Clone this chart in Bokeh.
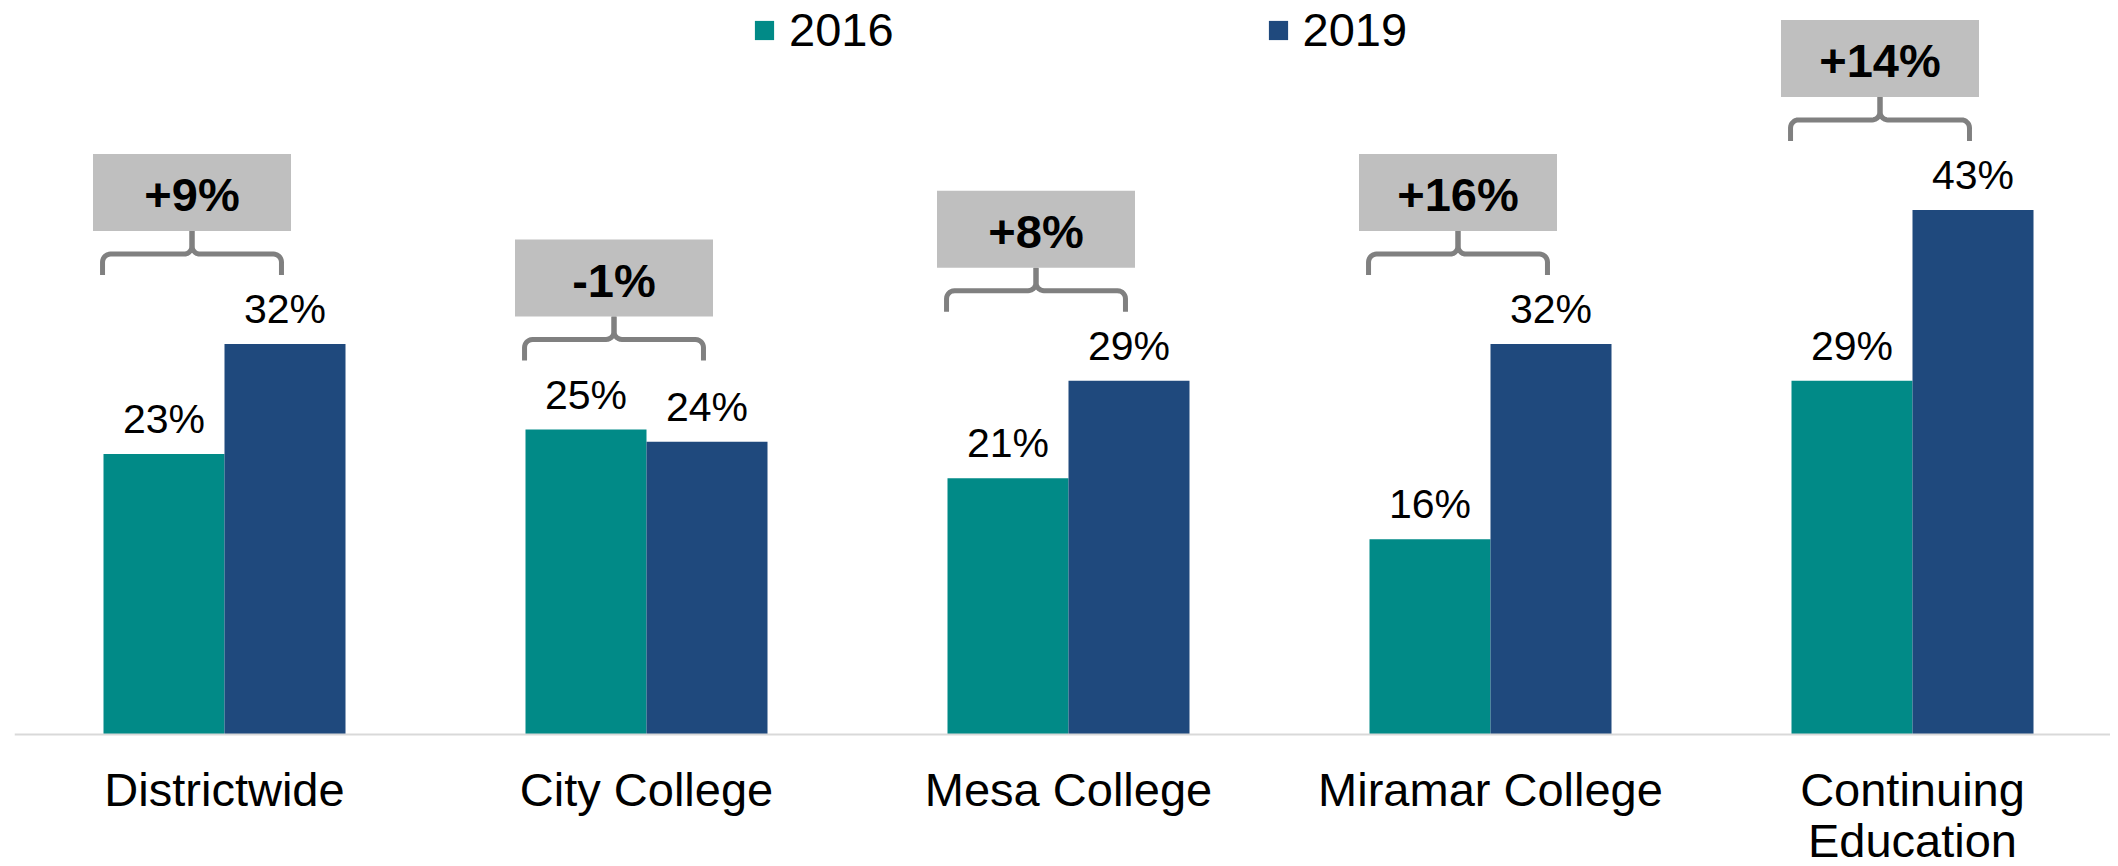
from bokeh.plotting import figure
from bokeh.models import ColumnDataSource, Span, Legend, LegendItem
from bokeh.transform import dodge
from bokeh.core.properties import value
from bokeh.embed import file_html
from bokeh.resources import INLINE
import numpy as np

# ---------------- data ----------------
categories = ["Districtwide", "City College", "Mesa College", "Miramar College", "Continuing\nEducation"]
years = ["2016", "2019"]
vals_2016 = [23, 25, 21, 16, 29]
vals_2019 = [32, 24, 29, 32, 43]

# ---------------- style ----------------
C16 = "#018A87"
C19 = "#1F497D"
BOX = "#BFBFBF"
BRACE = "#808080"
FONT = "Liberation Sans"

W, H = 2110, 866
PX_X = 422.0          # pixels per category
PX_Y = 12.2           # pixels per percentage point
BORDER_L = 14
x0_px = 224 - BORDER_L
frame_w = W - BORDER_L
x_start = -x0_px / PX_X
x_end = (frame_w - x0_px) / PX_X
base_px = 734
y_end = base_px / PX_Y
y_start = -(H - base_px) / PX_Y

bw = 121 / PX_X

xs = list(range(len(categories)))
src = ColumnDataSource(dict(
    x=xs, cat=categories, v16=vals_2016, v19=vals_2019,
    l16=[f"{v}%" for v in vals_2016], l19=[f"{v}%" for v in vals_2019],
))

p = figure(width=W, height=H, x_range=(x_start, x_end), y_range=(y_start, y_end),
           x_axis_location=None, y_axis_location=None, toolbar_location=None,
           output_backend="svg", min_border_left=BORDER_L, min_border_right=0,
           min_border_top=0, min_border_bottom=0, outline_line_color=None)
p.grid.visible = False

p.add_layout(Span(location=0, dimension="width", line_color="#D9D9D9", line_width=2))

r16 = p.vbar(x=dodge("x", -bw / 2), top="v16", width=bw, source=src,
             fill_color=C16, line_color=None)
r19 = p.vbar(x=dodge("x", bw / 2), top="v19", width=bw, source=src,
             fill_color=C19, line_color=None)

for fx, fy, fl in ((-bw / 2, "v16", "l16"), (bw / 2, "v19", "l19")):
    p.text(x=dodge("x", fx), y=fy, text=fl, source=src, text_align="center",
           text_baseline="alphabetic", y_offset=-35, text_font=value(FONT),
           text_font_size="41px", text_color="black")

# category labels
p.text(x="x", y=0, text="cat", source=src, text_align="center", text_baseline="top",
       y_offset=28, text_font=value(FONT), text_font_size="47px",
       text_color="black", text_line_height=0.98)

# change brackets
bx, by, btxt = [], [], []
lxs, lys = [], []
rx, ry = 8 / PX_X, 8 / PX_Y
for c, a, b in zip(xs, vals_2016, vals_2019):
    ymax = max(a, b)
    yb = ymax + 69 / PX_Y
    yh = yb + 21 / PX_Y
    ytop = yh + 23 / PX_Y
    xl, xr = c - 0.289, c + 0.135
    xm = (xl + xr) / 2
    t1 = np.linspace(np.pi, np.pi / 2, 8)
    t2 = np.linspace(-np.pi / 2, 0, 8)
    lx = [xl] + list(xl + rx + rx * np.cos(t1)) + list(xm - rx + rx * np.cos(t2)) + [xm]
    ly = [yb] + list(yh - ry + ry * np.sin(t1)) + list(yh + ry + ry * np.sin(t2)) + [ytop]
    t3 = np.linspace(0, np.pi / 2, 8)
    t4 = np.linspace(-np.pi / 2, -np.pi, 8)
    rxl = [xr] + list(xr - rx + rx * np.cos(t3)) + list(xm + rx + rx * np.cos(t4)) + [xm]
    ryl = [yb] + list(yh - ry + ry * np.sin(t3)) + list(yh + ry + ry * np.sin(t4)) + [ytop]
    lxs += [lx, rxl]
    lys += [ly, ryl]
    bx.append(xm)
    by.append(ytop + 38.5 / PX_Y)
    btxt.append(f"{b - a:+d}%")

p.multi_line(xs=lxs, ys=lys, line_color=BRACE, line_width=5, line_join="round")
p.rect(x=bx, y=by, width=198, height=77, width_units="screen", height_units="screen",
       fill_color=BOX, line_color=None)
p.text(x=bx, y=by, text=btxt, text_align="center", text_baseline="middle", y_offset=2,
       text_font=value(FONT), text_font_size="47px", text_font_style="bold",
       text_color="black")

legend = Legend(items=[LegendItem(label=years[0], renderers=[r16]),
                       LegendItem(label=years[1], renderers=[r19])],
                orientation="horizontal", location=(738, 809), glyph_width=24,
                glyph_height=24, label_standoff=13, spacing=372, padding=0, margin=0,
                border_line_color=None, background_fill_alpha=0,
                label_text_font=FONT, label_text_font_size="47px",
                label_text_color="black")
p.add_layout(legend)

open("out.html", "w").write(file_html(p, INLINE))
